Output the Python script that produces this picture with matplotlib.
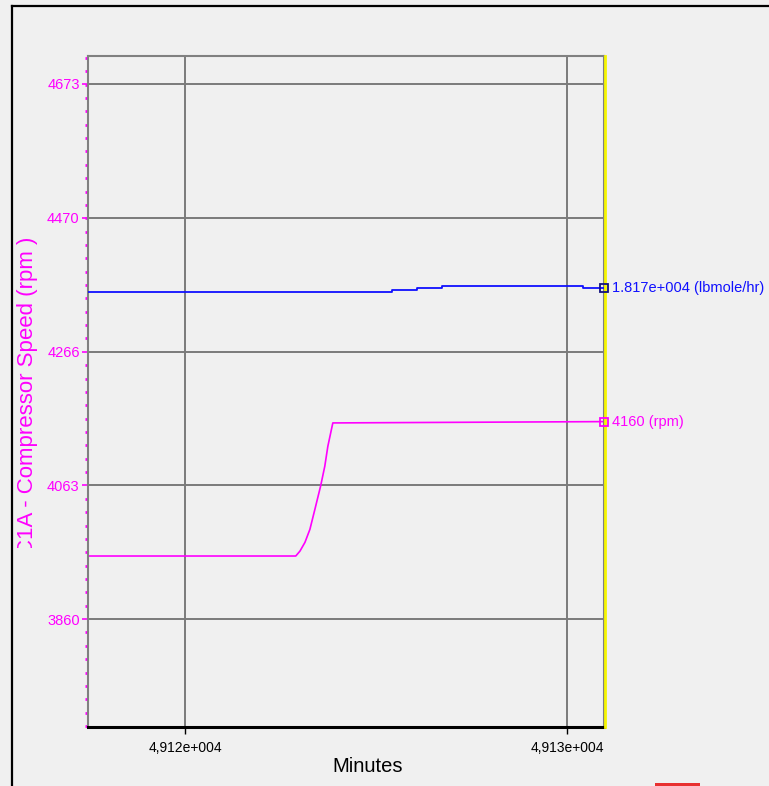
import matplotlib
matplotlib.use("Agg")
import matplotlib.pyplot as plt
from matplotlib.ticker import AutoMinorLocator, FixedLocator
from matplotlib.lines import Line2D
from matplotlib.patches import Rectangle

plt.rcParams['font.family'] = ['Liberation Sans', 'DejaVu Sans']

MAGENTA = "#ff00ff"
BLUE = "#1010ff"
BG = "#f0f0f0"

# compressor speed trend (rpm)
speed_t = [49117.46, 49122.90, 49123.01, 49123.14, 49123.27, 49123.40,
           49123.55, 49123.66, 49123.74, 49123.87, 49130.97]
speed_v = [3955.8, 3955.8, 3963.3, 3976.5, 3996.3, 4026.6,
           4062.0, 4092.3, 4122.6, 4158.0, 4160.0]

# molar flow trend (lbmole/hr), drawn as steps
flow_t = [49117.46, 49125.42, 49126.07, 49126.73, 49130.42, 49130.97]
flow_v = [18160.8, 18164.8, 18168.8, 18173.4, 18168.8, 18168.8]

x_ticks = [49120, 49130]
x_ticklabels = ["4,912e+004", "4,913e+004"]
y_ticks = [3860, 4063, 4266, 4470, 4673]

speed_label = "4160 (rpm)"
flow_label = "1.817e+004 (lbmole/hr)"

fig = plt.figure(figsize=(7.69, 7.86), dpi=100, facecolor=BG)

# window frame
fig.add_artist(Line2D([12 / 769, 12 / 769], [0, 1 - 6 / 786], color="black", lw=1.6))
fig.add_artist(Line2D([12 / 769, 1], [1 - 6 / 786, 1 - 6 / 786], color="black", lw=1.6))
fig.add_artist(Rectangle((655 / 769, 0), 45 / 769, 3 / 786, color="#e83030", lw=0))

ax = fig.add_axes([88 / 769, 1 - 727 / 786, 516 / 769, 671 / 786])
ax.set_facecolor(BG)
ax.set_xlim(49117.46, 49130.97)
ax.set_ylim(3696, 4715.5)

ax.xaxis.set_major_locator(FixedLocator(x_ticks))
ax.set_xticklabels(x_ticklabels, fontsize=10)
ax.yaxis.set_major_locator(FixedLocator(y_ticks))
ax.yaxis.set_minor_locator(AutoMinorLocator(10))
ax.set_yticklabels([str(v) for v in y_ticks], fontsize=10.5, color=MAGENTA)

ax.tick_params(axis="x", length=5, width=1, color="black", pad=5)
ax.tick_params(axis="y", which="major", length=4, width=1.2, color=MAGENTA, pad=2)
ax.tick_params(axis="y", which="minor", length=2, width=2, color=MAGENTA)

ax.grid(True, which="major", color="#7a7a7a", lw=1.4)
ax.set_axisbelow(True)

for side in ["top", "left", "right"]:
    ax.spines[side].set_color("#808080")
    ax.spines[side].set_linewidth(1.5)
ax.spines["bottom"].set_color("black")
ax.spines["bottom"].set_linewidth(2.2)

ax.plot(speed_t, speed_v, color=MAGENTA, lw=1.2)
ax.plot(speed_t[-1], speed_v[-1], marker="s", ms=6, mfc="none", mec=MAGENTA,
        mew=1.3, clip_on=False, zorder=5)
ax.axvline(ax.get_xlim()[1] + 0.03, color="#f5f500", lw=2, clip_on=False, zorder=4)

ax.set_xlabel("Minutes", fontsize=14.5, labelpad=2)
ax.xaxis.set_label_coords(0.541, -0.045)

# axis title, cut off at the bottom like the trend window does
title = ax.text(-0.117, 0.256, "C1A - Compressor Speed (rpm )", transform=ax.transAxes,
                rotation=90, color=MAGENTA, fontsize=16, ha="center", va="bottom")
clip = Rectangle((0, 1 - 548 / 786), 1, 548 / 786, transform=fig.transFigure)
title.set_clip_path(clip)
title.set_clip_on(True)

ax2 = ax.twinx()
ax2.set_ylim(17291.4, 18633.4)
ax2.set_yticks([])
for s in ax2.spines.values():
    s.set_visible(False)
ax2.step(flow_t, flow_v, where="post", color=BLUE, lw=1.3)
ax2.plot(flow_t[-1], flow_v[-1], marker="s", ms=6, mfc="none", mec="#101080",
         mew=1.3, clip_on=False, zorder=5)

ax2.annotate(flow_label, (flow_t[-1], flow_v[-1]), xytext=(6, 0),
             textcoords="offset points", color=BLUE, fontsize=10.5,
             va="center", ha="left", annotation_clip=False)
ax.annotate(speed_label, (speed_t[-1], speed_v[-1]), xytext=(6, 0),
            textcoords="offset points", color=MAGENTA, fontsize=10.5,
            va="center", ha="left", annotation_clip=False)

fig.savefig("out.png", dpi=100, facecolor=BG)
